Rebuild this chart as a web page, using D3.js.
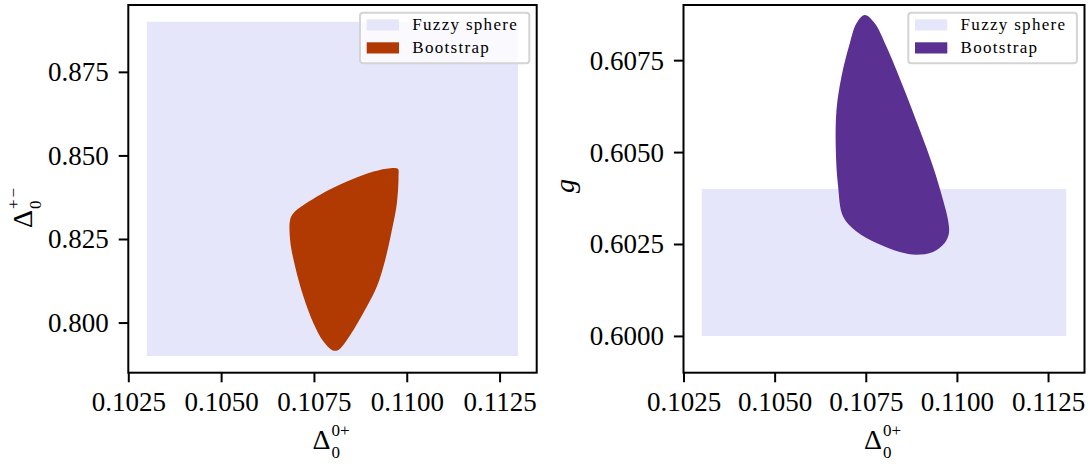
<!DOCTYPE html>
<html>
<head>
<meta charset="utf-8">
<script src="https://cdn.jsdelivr.net/npm/d3@7"></script>
<style>
  html, body { margin: 0; padding: 0; background: #ffffff; }
  svg { display: block; }
</style>
</head>
<body>
<svg id="chart" width="1090" height="464"></svg>
<script>
// ---------------- DATA ----------------
const xTicks = [0.1025, 0.1050, 0.1075, 0.1100, 0.1125];
const xTickLabels = ["0.1025", "0.1050", "0.1075", "0.1100", "0.1125"];
const leftYTicks = [0.800, 0.825, 0.850, 0.875];
const leftYTickLabels = ["0.800", "0.825", "0.850", "0.875"];
const rightYTicks = [0.6000, 0.6025, 0.6050, 0.6075];
const rightYTickLabels = ["0.6000", "0.6025", "0.6050", "0.6075"];
const legendLabels = ["Fuzzy sphere", "Bootstrap"];

// Fuzzy sphere boxes: [xmin, xmax, ymin, ymax]
const fuzzyLeft = [0.103, 0.113, 0.790, 0.890];
const fuzzyRight = [0.103, 0.113, 0.600, 0.604];

// Bootstrap region outlines (x = Delta_0^{0+}, y = Delta_0^{+-} / g)
const bootLeftX = [0.109761, 0.109778, 0.109735, 0.109600, 0.109419, 0.109195, 0.108926, 0.108565,
  0.108252, 0.108117, 0.107982, 0.107756, 0.107487, 0.107217, 0.106993, 0.106858, 0.106858,
  0.106947, 0.107667, 0.108387, 0.109104, 0.109554];
const bootLeftY = [0.84598, 0.84367, 0.83580, 0.82772, 0.81875, 0.81076, 0.80477, 0.79780,
  0.79280, 0.79161, 0.79182, 0.79430, 0.79980, 0.80776, 0.81674, 0.82473, 0.83071,
  0.83272, 0.83820, 0.84218, 0.84517, 0.84618];

const bootRightX = [0.107473, 0.107747, 0.108067, 0.108522, 0.108979, 0.109344, 0.109618, 0.109755,
  0.109782, 0.109664, 0.109344, 0.108889, 0.108432, 0.107793, 0.107245, 0.106878, 0.106741,
  0.106678, 0.106697, 0.106834, 0.107062, 0.107245];
const bootRightY = [0.608731, 0.608505, 0.607870, 0.606783, 0.605606, 0.604609, 0.603704, 0.603160,
  0.602799, 0.602527, 0.602283, 0.602209, 0.602283, 0.602527, 0.602842, 0.603250, 0.604065,
  0.605062, 0.606149, 0.607054, 0.607962, 0.608505];

// ---------------- STYLE ----------------
const fuzzyColor = "#e6e6fa";
const bootLeftColor = "#b03a02";
const bootRightColor = "#5a3192";
const tickFont = "'Liberation Serif', 'DejaVu Serif', serif";

const svg = d3.select("#chart");

function drawPanel(cfg) {
  const x = d3.scaleLinear().domain(cfg.xDomain).range([cfg.left, cfg.right]);
  const y = d3.scaleLinear().domain(cfg.yDomain).range([cfg.bottom, cfg.top]);
  const g = svg.append("g");

  // fuzzy sphere rectangle
  g.append("rect")
    .attr("x", x(cfg.fuzzy[0])).attr("y", y(cfg.fuzzy[3]))
    .attr("width", x(cfg.fuzzy[1]) - x(cfg.fuzzy[0]))
    .attr("height", y(cfg.fuzzy[2]) - y(cfg.fuzzy[3]))
    .attr("fill", fuzzyColor);

  // bootstrap region
  const pts = cfg.bx.map((v, i) => [v, cfg.by[i]]);
  const line = d3.line().x(d => x(d[0])).y(d => y(d[1])).curve(d3.curveCatmullRomClosed.alpha(0.5));
  g.append("path").attr("d", line(pts)).attr("fill", cfg.bootColor).attr("stroke", "none");

  // axes
  const xAxis = d3.axisBottom(x).tickValues(xTicks).tickFormat((d, i) => xTickLabels[i])
    .tickSizeInner(9.6).tickSizeOuter(0).tickPadding(10);
  const gx = g.append("g").attr("transform", `translate(0,${cfg.bottom})`).call(xAxis);
  const yAxis = d3.axisLeft(y).tickValues(cfg.yTicks).tickFormat((d, i) => cfg.yTickLabels[i])
    .tickSizeInner(9.6).tickSizeOuter(0).tickPadding(10);
  const gy = g.append("g").attr("transform", `translate(${cfg.left},0)`).call(yAxis);
  [gx, gy].forEach(a => {
    a.select(".domain").remove();
    a.selectAll(".tick line").attr("stroke", "#000").attr("stroke-width", 2);
    a.selectAll(".tick text").attr("fill", "#000").style("font-family", tickFont).style("font-size", "27px");
  });
  gx.selectAll(".tick text").attr("dy", null).attr("y", 38.5);
  gy.selectAll(".tick text").attr("x", -19.5).attr("dy", "0.33em");

  // frame
  g.append("rect")
    .attr("x", cfg.left).attr("y", cfg.top)
    .attr("width", cfg.right - cfg.left).attr("height", cfg.bottom - cfg.top)
    .attr("fill", "none").attr("stroke", "#000").attr("stroke-width", 2);

  // x label: Delta_0^{0+}
  const xl = g.append("g").style("font-family", tickFont).attr("fill", "#000");
  const cx = (cfg.left + cfg.right) / 2;
  const dTxt = xl.append("text").attr("y", 449).style("font-size", "28px").text("Δ");
  const dw = dTxt.node().getComputedTextLength();
  const supW = 22;
  const x0 = cx - (dw + supW) / 2;
  dTxt.attr("x", x0);
  xl.append("text").attr("x", x0 + dw + 1).attr("y", 436).style("font-size", "17px").text("0+");
  xl.append("text").attr("x", x0 + dw + 1).attr("y", 458).style("font-size", "17px").text("0");

  // legend
  const L = cfg.legend;
  const lg = g.append("g");
  lg.append("rect").attr("x", L.x).attr("y", L.y).attr("width", L.w).attr("height", L.h)
    .attr("rx", 3).attr("ry", 3)
    .attr("fill", "#ffffff").attr("fill-opacity", 0.8)
    .attr("stroke", "#d4d4d4").attr("stroke-width", 2);
  const colors = [fuzzyColor, cfg.bootColor];
  legendLabels.forEach((lab, i) => {
    const ry = L.y + 6.6 + i * 23;
    lg.append("rect").attr("x", L.x + 6.7).attr("y", ry).attr("width", 32.3).attr("height", 11.2)
      .attr("fill", colors[i]);
    lg.append("text").attr("x", L.x + 52.3).attr("y", ry + 11)
      .style("font-family", tickFont).style("font-size", "17px").style("letter-spacing", "1.3px")
      .attr("fill", "#000").text(lab);
  });
  return g;
}

drawPanel({
  left: 128.3, right: 536.7, top: 5, bottom: 372.7,
  xDomain: [0.1025, 0.1135], yDomain: [0.785, 0.895],
  fuzzy: fuzzyLeft, bx: bootLeftX, by: bootLeftY, bootColor: bootLeftColor,
  yTicks: leftYTicks, yTickLabels: leftYTickLabels,
  legend: { x: 360, y: 12.7, w: 169.3, h: 50.6 }
});

drawPanel({
  left: 683.5, right: 1084.5, top: 5, bottom: 372.7,
  xDomain: [0.1025, 0.1135], yDomain: [0.599, 0.609],
  fuzzy: fuzzyRight, bx: bootRightX, by: bootRightY, bootColor: bootRightColor,
  yTicks: rightYTicks, yTickLabels: rightYTickLabels,
  legend: { x: 908.3, y: 12.7, w: 168.6, h: 50.6 }
});

// y label left: Delta_0^{+-}
const yl = svg.append("g").attr("transform", "translate(31.7,228) rotate(-90)")
  .style("font-family", tickFont).attr("fill", "#000");
const yd = yl.append("text").attr("x", 0).attr("y", 0).style("font-size", "28px").text("Δ");
const ydw = yd.node().getComputedTextLength();
yl.append("text").attr("x", ydw + 1).attr("y", -13).style("font-size", "17px")
  .style("letter-spacing", "2px").text("+−");
yl.append("text").attr("x", ydw + 1).attr("y", 9).style("font-size", "17px").text("0");

// y label right: g
svg.append("text").attr("transform", "translate(574,186) rotate(-90)")
  .attr("text-anchor", "middle")
  .style("font-family", tickFont).style("font-size", "28px").style("font-style", "italic")
  .attr("fill", "#000").text("g");
</script>
</body>
</html>
